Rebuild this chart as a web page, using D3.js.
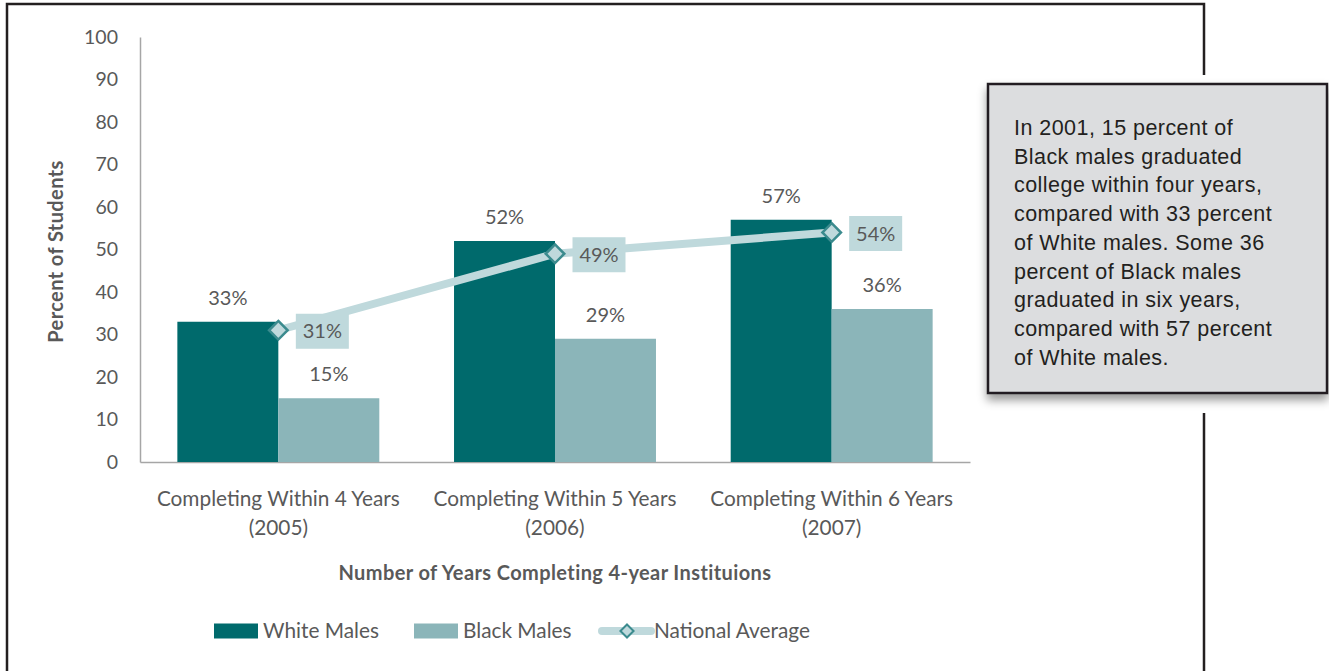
<!DOCTYPE html>
<html>
<head>
<meta charset="utf-8">
<script src="https://cdn.jsdelivr.net/npm/d3@7"></script>
<style>
  body { margin: 0; background: #fff; }
  text { font-family: Lato, "Open Sans", sans-serif; fill: #595959; }
  .callout text { font-family: "Liberation Sans", Arial, sans-serif; fill: #231f20; }
</style>
</head>
<body>
<div id="chart"></div>
<script>
var categories = ["Completing Within 4 Years|(2005)", "Completing Within 5 Years|(2006)", "Completing Within 6 Years|(2007)"];
var seriesNames = ["White Males", "Black Males"];
var whiteMales = [33, 52, 57];
var blackMales = [15, 29, 36];
var nationalAverage = [31, 49, 54];
var yTicks = [0, 10, 20, 30, 40, 50, 60, 70, 80, 90, 100];
var calloutLines = [
  "In 2001, 15 percent of",
  "Black males graduated",
  "college within four years,",
  "compared with 33 percent",
  "of White males. Some 36",
  "percent of Black males",
  "graduated in six years,",
  "compared with 57 percent",
  "of White males."
];

var _width = 1329, _height = 671,
  _margins = {top: 37, left: 140, right: 359, bottom: 209},
  _colors = {"White Males": "#006a6c", "Black Males": "#8bb5b9", line: "#bfd9dc", marker: "#3b8b8e"};

var svg = d3.select("#chart").append("svg")
  .attr("width", _width)
  .attr("height", _height);

// outer frame (bottom edge runs off the page)
svg.append("path")
  .attr("d", "M7,675 L7,4 L1204,4 L1204,675")
  .attr("fill", "none")
  .attr("stroke", "#231f20")
  .attr("stroke-width", 2.5);

var x = d3.scaleBand()
  .domain(categories)
  .range([_margins.left, _width - _margins.right]);

var xInner = d3.scaleBand()
  .domain(seriesNames)
  .range([0, x.bandwidth()])
  .paddingOuter(0.37);

var y = d3.scaleLinear()
  .domain([0, 100])
  .range([_height - _margins.bottom, _margins.top]);

var y0 = y(0);

// y axis
var yAxis = d3.axisLeft(y).tickValues(yTicks).tickSize(0).tickPadding(22);
var yG = svg.append("g")
  .attr("transform", "translate(" + _margins.left + ",0)")
  .call(yAxis);
yG.select(".domain").attr("stroke", "#a6a6a6").attr("stroke-width", 1.5);
yG.selectAll(".tick text")
  .attr("font-family", "Lato, sans-serif")
  .attr("font-size", 19.5)
  .attr("fill", "#595959");

// x axis
var xAxis = d3.axisBottom(x).tickSize(0).tickFormat("");
var xG = svg.append("g")
  .attr("transform", "translate(0," + y0 + ")")
  .call(xAxis);
xG.select(".domain").attr("stroke", "#a6a6a6").attr("stroke-width", 1.5);

// category labels, two lines
categories.forEach(function (c) {
  var parts = c.split("|");
  var t = svg.append("text")
    .attr("x", x(c) + x.bandwidth() / 2)
    .attr("y", 506)
    .attr("text-anchor", "middle")
    .attr("font-size", 20.8);
  t.append("tspan").attr("x", x(c) + x.bandwidth() / 2).text(parts[0]);
  t.append("tspan").attr("x", x(c) + x.bandwidth() / 2).attr("dy", 29).text(parts[1]);
});

// axis titles
svg.append("text")
  .attr("x", (x.range()[0] + x.range()[1]) / 2)
  .attr("y", 580)
  .attr("text-anchor", "middle")
  .attr("font-size", 20)
  .attr("letter-spacing", 0.4)
  .attr("font-weight", "bold")
  .text("Number of Years Completing 4-year Instituions");

svg.append("text")
  .attr("transform", "translate(63," + ((y(0) + y(100)) / 2 + 2) + ") rotate(-90)")
  .attr("text-anchor", "middle")
  .attr("font-size", 20)
  .attr("letter-spacing", 0.4)
  .attr("font-weight", "bold")
  .text("Percent of Students");

// bars
var rows = categories.map(function (c, i) {
  return {cat: c, values: [
    {name: "White Males", value: whiteMales[i]},
    {name: "Black Males", value: blackMales[i]}
  ]};
});

var groups = svg.selectAll("g.group")
  .data(rows)
  .enter().append("g")
  .attr("class", "group")
  .attr("transform", function (d) { return "translate(" + x(d.cat) + ",0)"; });

groups.selectAll("rect")
  .data(function (d) { return d.values; })
  .enter().append("rect")
  .attr("x", function (d) { return xInner(d.name); })
  .attr("y", function (d) { return y(d.value); })
  .attr("width", xInner.bandwidth())
  .attr("height", function (d) { return y0 - y(d.value); })
  .attr("fill", function (d) { return _colors[d.name]; });

groups.selectAll("text.val")
  .data(function (d) { return d.values; })
  .enter().append("text")
  .attr("class", "val")
  .attr("x", function (d) { return xInner(d.name) + xInner.bandwidth() / 2; })
  .attr("y", function (d) { return y(d.value) - 17; })
  .attr("text-anchor", "middle")
  .attr("font-size", 20)
  .text(function (d) { return d.value + "%"; });

// national average line
var cx = function (d, i) { return x(categories[i]) + x.bandwidth() / 2; };
var line = d3.line()
  .x(function (d, i) { return cx(d, i); })
  .y(function (d) { return y(d); });

svg.append("path")
  .datum(nationalAverage)
  .attr("d", line)
  .attr("fill", "none")
  .attr("stroke", _colors.line)
  .attr("stroke-width", 8);

var diamond = d3.symbol().type(d3.symbolDiamond2).size(220);

svg.selectAll("path.marker")
  .data(nationalAverage)
  .enter().append("path")
  .attr("class", "marker")
  .attr("d", diamond)
  .attr("transform", function (d, i) { return "translate(" + cx(d, i) + "," + y(d) + ")"; })
  .attr("fill", _colors.line)
  .attr("stroke", _colors.marker)
  .attr("stroke-width", 2.5);

var avgLabels = svg.selectAll("g.avg")
  .data(nationalAverage)
  .enter().append("g")
  .attr("class", "avg")
  .attr("transform", function (d, i) { return "translate(" + (cx(d, i) + 44) + "," + (y(d) + 1) + ")"; });

avgLabels.append("rect")
  .attr("x", -26.5)
  .attr("y", -17.5)
  .attr("width", 53)
  .attr("height", 35)
  .attr("fill", _colors.line);

avgLabels.append("text")
  .attr("y", 7)
  .attr("text-anchor", "middle")
  .attr("font-size", 20)
  .text(function (d) { return d + "%"; });

// legend
var legend = svg.append("g").attr("transform", "translate(0,631)");
var legendItems = [
  {name: "White Males", x: 214, type: "rect"},
  {name: "Black Males", x: 414, type: "rect"},
  {name: "National Average", x: 602, type: "line"}
];
legendItems.forEach(function (item) {
  if (item.type == "rect") {
    legend.append("rect")
      .attr("x", item.x).attr("y", -7.5)
      .attr("width", 44).attr("height", 15)
      .attr("fill", _colors[item.name]);
  } else {
    legend.append("line")
      .attr("x1", item.x).attr("x2", item.x + 49)
      .attr("y1", 0).attr("y2", 0)
      .attr("stroke", _colors.line)
      .attr("stroke-width", 8)
      .attr("stroke-linecap", "round");
    legend.append("path")
      .attr("d", d3.symbol().type(d3.symbolDiamond2).size(110))
      .attr("transform", "translate(" + (item.x + 25) + ",0)")
      .attr("fill", _colors.line)
      .attr("stroke", _colors.marker)
      .attr("stroke-width", 2);
  }
  legend.append("text")
    .attr("x", item.x + (item.type == "rect" ? 49 : 52))
    .attr("y", 7)
    .attr("font-size", 20.8)
    .text(item.name);
});

// callout box
var defs = svg.append("defs");
var f = defs.append("filter").attr("id", "shadow")
  .attr("x", "-10%").attr("y", "-10%").attr("width", "120%").attr("height", "130%");
f.append("feDropShadow")
  .attr("dx", 0).attr("dy", 6)
  .attr("stdDeviation", 5)
  .attr("flood-color", "#000")
  .attr("flood-opacity", 0.4);

var callout = svg.append("g").attr("class", "callout");
callout.append("rect")
  .attr("x", 978).attr("y", 75)
  .attr("width", 351).attr("height", 338)
  .attr("fill", "#fff");
callout.append("rect")
  .attr("x", 988).attr("y", 84)
  .attr("width", 339).attr("height", 309)
  .attr("fill", "#dcdddf")
  .attr("stroke", "#231f20")
  .attr("stroke-width", 2.5)
  .attr("filter", "url(#shadow)");

callout.selectAll("text")
  .data(calloutLines)
  .enter().append("text")
  .attr("x", 1014)
  .attr("y", function (d, i) { return 135 + i * 28.7; })
  .attr("font-size", 21.5)
  .attr("letter-spacing", 0.45)
  .text(function (d) { return d; });
</script>
</body>
</html>
